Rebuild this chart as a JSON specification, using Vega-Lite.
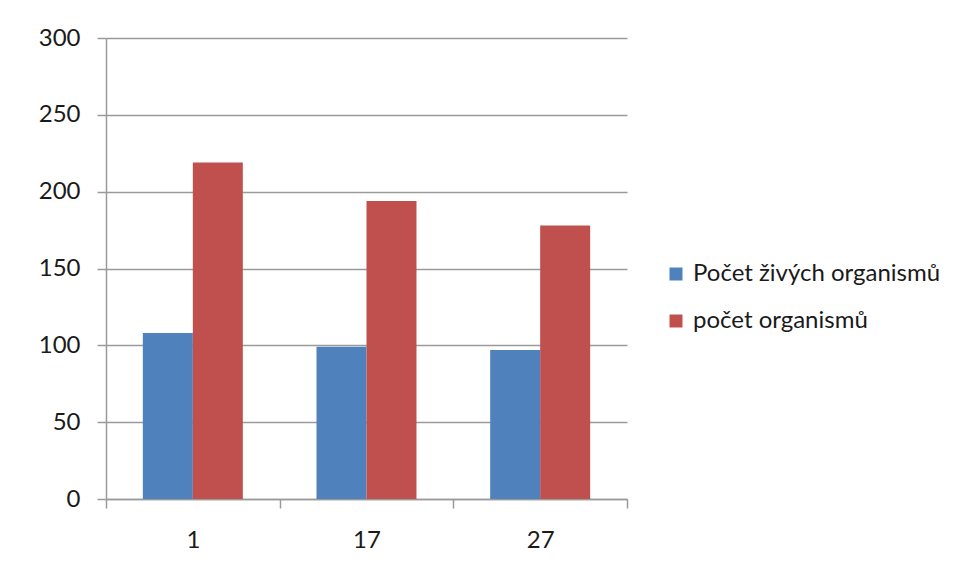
{
  "$schema": "https://vega.github.io/schema/vega-lite/v6.json",
  "autosize": "none",
  "padding": {"left": 106, "top": 38, "right": 334, "bottom": 80},
  "width": 521,
  "height": 461,
  "background": "white",
  "data": {
    "values": [
      {"den": "1", "serie": "Počet živých organismů", "pocet": 108},
      {"den": "1", "serie": "počet organismů", "pocet": 219},
      {"den": "17", "serie": "Počet živých organismů", "pocet": 99},
      {"den": "17", "serie": "počet organismů", "pocet": 194},
      {"den": "27", "serie": "Počet živých organismů", "pocet": 97},
      {"den": "27", "serie": "počet organismů", "pocet": 178}
    ]
  },
  "mark": {"type": "bar"},
  "encoding": {
    "x": {
      "field": "den",
      "type": "nominal",
      "sort": null,
      "scale": {"paddingInner": 0, "paddingOuter": 0},
      "axis": {
        "title": null,
        "labelAngle": 0,
        "tickBand": "extent",
        "tickSize": 9,
        "labelPadding": 32,
        "labelBaseline": "middle"
      }
    },
    "xOffset": {
      "field": "serie",
      "type": "nominal",
      "sort": ["Počet živých organismů", "počet organismů"],
      "scale": {"paddingInner": 0, "paddingOuter": 0.737}
    },
    "y": {
      "field": "pocet",
      "type": "quantitative",
      "scale": {"domain": [0, 300], "nice": false},
      "axis": {
        "title": null,
        "values": [0, 50, 100, 150, 200, 250, 300],
        "tickSize": 9,
        "labelPadding": 17,
        "grid": true
      }
    },
    "color": {
      "field": "serie",
      "type": "nominal",
      "sort": ["Počet živých organismů", "počet organismů"],
      "scale": {"range": ["#4F81BD", "#C0504D"]},
      "legend": {
        "title": null,
        "orient": "none",
        "legendX": 558,
        "legendY": 224,
        "symbolType": "square",
        "symbolSize": 169,
        "symbolStrokeWidth": 0,
        "labelOffset": 5,
        "rowPadding": 23
      }
    }
  },
  "config": {
    "font": "Lato",
    "view": {"stroke": null},
    "axis": {
      "labelFont": "Lato",
      "labelFontSize": 24,
      "labelColor": "#1a1a1a",
      "domainColor": "#9a9a9a",
      "tickColor": "#9a9a9a",
      "gridColor": "#9a9a9a",
      "domainWidth": 1.5,
      "tickWidth": 1.5,
      "gridWidth": 1.5
    },
    "axisX": {"grid": false},
    "legend": {
      "labelFont": "Lato",
      "labelFontSize": 24,
      "labelColor": "#1a1a1a",
      "labelLimit": 400
    }
  }
}
